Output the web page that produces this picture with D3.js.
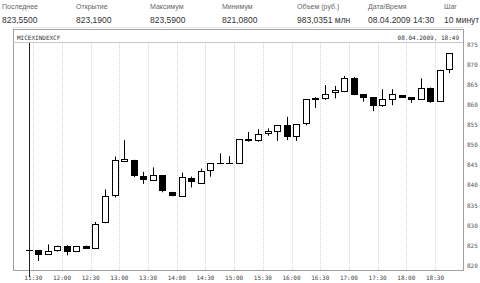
<!DOCTYPE html>
<html><head><meta charset="utf-8">
<script src="https://cdn.jsdelivr.net/npm/d3@7"></script>
<style>
body{margin:0;background:#fff;}
svg{display:block;}
</style></head>
<body>
<svg id="c" width="480" height="283"></svg>
<script>
// ---- data ----
const headerLabels = ["Последнее","Открытие","Максимум","Минимум","Объем (руб.)","Дата/Время","Шаг"];
const headerValues = ["823,5500","823,1900","823,5900","821,0800","983,0351 млн","08.04.2009 14:30","10 минут"];
const times = ["11:20","11:30","11:40","11:50","12:00","12:10","12:20","12:30","12:40","12:50",
  "13:00","13:10","13:20","13:30","13:40","13:50","14:00","14:10","14:20","14:30",
  "14:40","14:50","15:00","15:10","15:20","15:30","15:40","15:50","16:00","16:10",
  "16:20","16:30","16:40","16:50","17:00","17:10","17:20","17:30","17:40","17:50",
  "18:00","18:10","18:20","18:30","18:40"];
const opens  = [823.9,823.9,822.9,823.9,824.9,823.6,824.9,824.4,830.9,837.5,
  846.2,846.4,842.4,841.3,842.5,838.4,837.3,841.9,840.7,843.9,
  845.5,845.5,845.5,851.4,851.3,853.0,853.6,855.0,852.2,855.5,
  861.6,861.7,863.2,863.6,866.8,862.8,862.0,860.0,861.6,862.5,
  862.0,861.6,864.3,861.1,869.0];
const highs  = [824.0,823.9,825.3,825.0,825.1,824.9,825.0,830.9,839.0,847.2,
  851.3,846.4,843.4,844.5,842.5,838.4,843.2,842.2,844.2,845.5,
  848.0,847.3,851.5,853.3,854.0,854.2,855.1,857.1,855.3,861.5,
  862.0,865.0,864.8,867.3,867.0,862.8,862.0,864.0,864.0,862.5,
  862.0,866.7,864.4,868.8,872.9];
const lows   = [823.8,821.2,822.9,823.5,822.6,823.6,824.2,824.4,830.6,837.0,
  846.0,842.1,840.4,841.3,838.3,837.3,837.3,839.5,840.4,842.2,
  845.5,845.5,845.5,850.9,850.9,852.4,851.1,851.3,851.1,855.0,
  859.3,861.3,861.7,863.4,862.5,860.9,858.5,859.6,860.0,861.8,
  860.6,861.6,860.6,861.1,868.0];
const closes = [823.9,822.9,823.7,824.9,823.6,824.9,824.4,830.4,837.4,846.3,
  846.5,842.6,841.6,842.6,838.8,837.5,842.0,841.0,843.5,845.5,
  845.6,845.6,851.5,851.5,852.8,853.6,855.1,852.2,855.2,861.5,
  861.9,862.8,863.8,866.7,862.7,862.1,860.0,861.6,862.8,862.0,
  861.6,864.4,861.0,868.8,872.9];
const timeTicks = ["11:30","12:00","12:30","13:00","13:30","14:00","14:30","15:00","15:30","16:00","16:30","17:00","17:30","18:00","18:30"];
const priceTicks = [820,825,830,835,840,845,850,855,860,865,870,875];
const chartTitle = "MICEXINDEXCF";
const chartStamp = "08.04.2009, 18:49";

// ---- layout ----
const svg = d3.select("#c");
const L = 13, R = 463, T = 29, TB = 42, B = 270;
const parse = d3.timeParse("%H:%M");
const x = d3.scaleTime().domain([parse("11:30"), parse("18:30")]).range([33.3, 435]);
const y = d3.scaleLinear().domain([818.93, 875.75]).range([B, TB]);
const candles = times.map((t,i)=>({t:parse(t),o:opens[i],h:highs[i],l:lows[i],c:closes[i]}));
const half = 5*60*1000;

// header
const hx = [2,76,150,222,297,368,444];
svg.append("g").selectAll("text").data(headerLabels).join("text")
  .attr("x",(d,i)=>hx[i]).attr("y",9)
  .attr("font-family","Liberation Sans, Arial, sans-serif").attr("font-size",7)
  .attr("fill","#666").text(d=>d);
svg.append("g").selectAll("text").data(headerValues).join("text")
  .attr("x",(d,i)=>hx[i]).attr("y",23)
  .attr("font-family","Liberation Sans, Arial, sans-serif").attr("font-size",8.5)
  .attr("fill","#333").text(d=>d);
svg.append("line").attr("x1",L).attr("x2",R).attr("y1",27.5).attr("y2",27.5).attr("stroke","#e2e2e2");

// frame
svg.append("rect").attr("x",L+0.5).attr("y",T+0.5).attr("width",R-L).attr("height",B-T)
  .attr("fill","none").attr("stroke","#a0a0a0");
svg.append("line").attr("x1",L).attr("x2",R).attr("y1",TB+0.5).attr("y2",TB+0.5).attr("stroke","#c8c8c8");
const mono = "DejaVu Sans Mono, monospace";
svg.append("text").attr("x",17).attr("y",39.5).attr("font-family",mono).attr("font-size",6)
  .attr("fill","#333").text(chartTitle);
svg.append("text").attr("x",459).attr("y",39.5).attr("text-anchor","end").attr("font-family",mono).attr("font-size",6)
  .attr("fill","#333").text(chartStamp);

// grid
const tickDates = timeTicks.map(parse);
svg.append("g").selectAll("line").data(tickDates).join("line")
  .attr("x1",d=>Math.round(x(d))+0.5).attr("x2",d=>Math.round(x(d))+0.5)
  .attr("y1",TB+1).attr("y2",B)
  .attr("stroke","#d6d6d6").attr("stroke-dasharray","1,1");

// x labels
svg.append("g").selectAll("text").data(tickDates).join("text")
  .attr("x",d=>x(d)).attr("y",280).attr("text-anchor","middle")
  .attr("font-family",mono).attr("font-size",6).attr("fill","#444")
  .text((d,i)=>timeTicks[i]);

// y labels
svg.append("g").selectAll("text").data(priceTicks).join("text")
  .attr("x",467).attr("y",d=>y(d)+2).attr("font-family",mono).attr("font-size",6)
  .attr("fill","#555").text(d=>d);

// session line
const sx = Math.round(x(new Date(candles[0].t.getTime()+half)))+0.5;
svg.append("line").attr("x1",sx).attr("x2",sx).attr("y1",TB+1).attr("y2",277).attr("stroke","#222");

// candles
const g = svg.append("g");
candles.forEach(d=>{
  const cx = Math.round(x(new Date(d.t.getTime()+half)));
  g.append("line").attr("x1",cx+0.5).attr("x2",cx+0.5).attr("y1",y(d.h)).attr("y2",y(d.l)).attr("stroke","#000");
  const y1 = Math.round(y(Math.max(d.o,d.c))), y2 = Math.round(y(Math.min(d.o,d.c)));
  if (y2 - y1 < 1) {
    g.append("line").attr("x1",cx-3).attr("x2",cx+4).attr("y1",y1+0.5).attr("y2",y1+0.5).attr("stroke","#000");
  } else {
    g.append("rect").attr("x",cx-3+0.5).attr("y",y1+0.5).attr("width",6).attr("height",y2-y1)
      .attr("fill", d.c>=d.o ? "#fff" : "#000").attr("stroke","#000");
  }
});
</script>
</body></html>
